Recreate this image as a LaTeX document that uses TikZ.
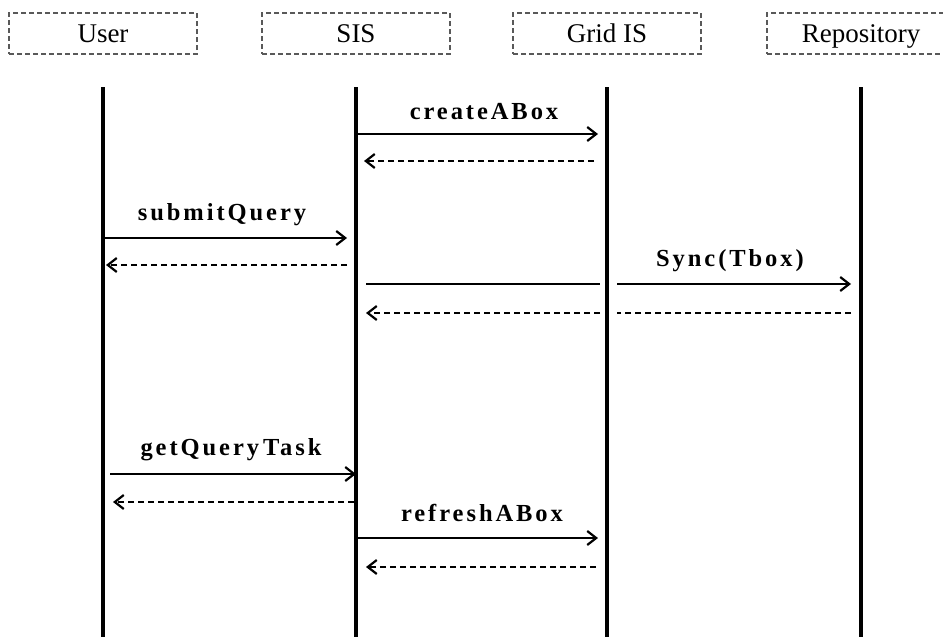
\documentclass[tikz,border=0pt]{standalone}
\usepackage{fontspec}
\setmainfont{Liberation Serif}
\newfontfamily\msgfont[LetterSpace=12]{Liberation Serif}
\usetikzlibrary{arrows.meta}
\tikzset{
  actor/.style={draw=black!65, dash pattern=on 5pt off 3pt, line width=1.1pt,
    minimum width=188pt, minimum height=41pt, inner sep=0pt,
    font=\fontsize{27}{27}\selectfont, text height=17.5pt, text depth=0pt},
  life/.style={line width=3.5pt},
  tip/.style={-{Straight Barb[length=9pt,width=14pt,line width=2.2pt]}},
  msg/.style={line width=1.3pt},
  ret/.style={line width=1.3pt, dash pattern=on 6.5pt off 3.5pt},
  lbl/.style={anchor=base, inner sep=0pt, font=\fontsize{24.5}{24.5}\selectfont\msgfont\bfseries}
}
\begin{document}
\begin{tikzpicture}[x=1pt,y=-1pt]
\useasboundingbox (0,0) rectangle (943,637);
% actors
\node[actor] (user) at (103,33.5) {User};
\node[actor] (sis)  at (356,33.5) {SIS};
\node[actor] (grid) at (607,33.5) {Grid IS};
\node[actor] (repo) at (861,33.5) {Repository};
% lifelines
\coordinate (uT) at (103,87); \coordinate (uB) at (103,637);
\coordinate (sT) at (356,87); \coordinate (sB) at (356,637);
\coordinate (gT) at (607,87); \coordinate (gB) at (607,637);
\coordinate (rT) at (861,87); \coordinate (rB) at (861,637);
\draw[life] (uT) -- (uB);
\draw[life] (sT) -- (sB);
\draw[life] (gT) -- (gB);
\draw[life] (rT) -- (rB);
% createABox
\coordinate (c1a) at (356,134); \coordinate (c1b) at (598,134);
\coordinate (c2a) at (594,161); \coordinate (c2b) at (364,161);
\draw[msg,tip] (c1a) -- (c1b);
\draw[ret,tip] (c2a) -- (c2b);
\node[lbl] (lc) at (484,119) {createABox};
% submitQuery
\coordinate (q1a) at (103,238); \coordinate (q1b) at (347,238);
\coordinate (q2a) at (347,265); \coordinate (q2b) at (106,265);
\draw[msg,tip] (q1a) -- (q1b);
\draw[ret,tip] (q2a) -- (q2b);
\node[lbl] (lq) at (222,220) {submitQuery};
% Sync(Tbox)
\coordinate (y1a) at (366,284); \coordinate (y1b) at (600,284);
\coordinate (y2a) at (617,284); \coordinate (y2b) at (851,284);
\coordinate (y3a) at (851,313); \coordinate (y3b) at (617,313);
\coordinate (y4a) at (600,313); \coordinate (y4b) at (366,313);
\draw[msg] (y1a) -- (y1b);
\draw[msg,tip] (y2a) -- (y2b);
\draw[ret] (y3a) -- (y3b);
\draw[ret,tip] (y4a) -- (y4b);
\node[lbl] (ly) at (730,266) {Sync(Tbox)};
% getQueryTask
\coordinate (t1a) at (110,474); \coordinate (t1b) at (356,474);
\coordinate (t2a) at (354,502); \coordinate (t2b) at (113,502);
\draw[msg,tip] (t1a) -- (t1b);
\draw[ret,tip] (t2a) -- (t2b);
\node[lbl] (lt) at (231,455) {getQuery\kern4pt Task};
% refreshABox
\coordinate (r1a) at (356,538); \coordinate (r1b) at (598,538);
\coordinate (r2a) at (596,567); \coordinate (r2b) at (366,567);
\draw[msg,tip] (r1a) -- (r1b);
\draw[ret,tip] (r2a) -- (r2b);
\node[lbl] (lr) at (482,521) {refreshABox};
\end{tikzpicture}
\end{document}
